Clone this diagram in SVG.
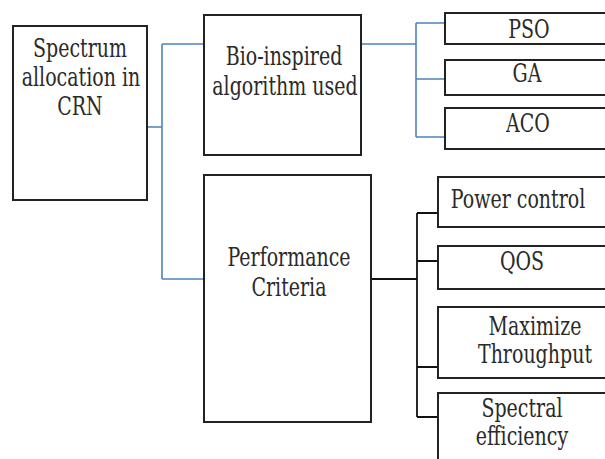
<svg xmlns="http://www.w3.org/2000/svg" width="605" height="459" viewBox="0 0 605 459">
<style>
.box{fill:#fff;stroke:#222;stroke-width:2}
text{font-family:'DejaVu Serif',serif;font-size:19px;fill:#2a2a2a;text-anchor:middle}
.blue{fill:none;stroke:#4f81bd;stroke-width:1.6}
.blk{fill:none;stroke:#111;stroke-width:1.8}
</style>
<rect width="605" height="459" fill="#fff"/>
<g id="connectors">
<path class="blue" d="M147,127 H162 M162,44 V279 M162,44 H204 M162,279 H204"/>
<path class="blue" d="M361,44 H416 M416,23 V137 M416,23 H445 M416,79 H445 M416,137 H445"/>
<path class="blk" d="M371,279 H417 M417,213 V417 M417,213 H438 M417,261 H438 M417,367 H438 M417,417 H438"/>
</g>
<g id="spectrum">
<rect class="box" x="13" y="26" width="134" height="174"/>
<text transform="translate(80,57) scale(1,1.33)">Spectrum</text>
<text transform="translate(81,86) scale(1,1.33)">allocation in</text>
<text transform="translate(80,115) scale(1,1.33)">CRN</text>
</g>
<g id="bio">
<rect class="box" x="204" y="15" width="157" height="140"/>
<text transform="translate(284,65) scale(1,1.33)">Bio-inspired</text>
<text transform="translate(285,95) scale(1,1.33)">algorithm used</text>
</g>
<g id="perf">
<rect class="box" x="204" y="175" width="167" height="247"/>
<text transform="translate(289,266) scale(1,1.33)">Performance</text>
<text transform="translate(289,296) scale(1,1.33)">Criteria</text>
</g>
<g id="pso">
<rect class="box" x="445" y="13" width="170" height="31"/>
<text transform="translate(529,38) scale(1,1.33)">PSO</text>
</g>
<g id="ga">
<rect class="box" x="445" y="60" width="170" height="35"/>
<text transform="translate(527,82) scale(1,1.33)">GA</text>
</g>
<g id="aco">
<rect class="box" x="445" y="108" width="170" height="41"/>
<text transform="translate(528,132) scale(1,1.33)">ACO</text>
</g>
<g id="power">
<rect class="box" x="438" y="177" width="180" height="50"/>
<text transform="translate(518,208) scale(1,1.33)">Power control</text>
</g>
<g id="qos">
<rect class="box" x="438" y="246" width="180" height="43"/>
<text transform="translate(522,270) scale(1,1.33)">QOS</text>
</g>
<g id="maximize">
<rect class="box" x="438" y="307" width="180" height="71"/>
<text transform="translate(535,335) scale(1,1.33)">Maximize</text>
<text transform="translate(535,363) scale(1,1.33)">Throughput</text>
</g>
<g id="spectral">
<rect class="box" x="438" y="393" width="180" height="80"/>
<text transform="translate(522,417) scale(1,1.33)">Spectral</text>
<text transform="translate(522,445) scale(1,1.33)">efficiency</text>
</g>
</svg>
